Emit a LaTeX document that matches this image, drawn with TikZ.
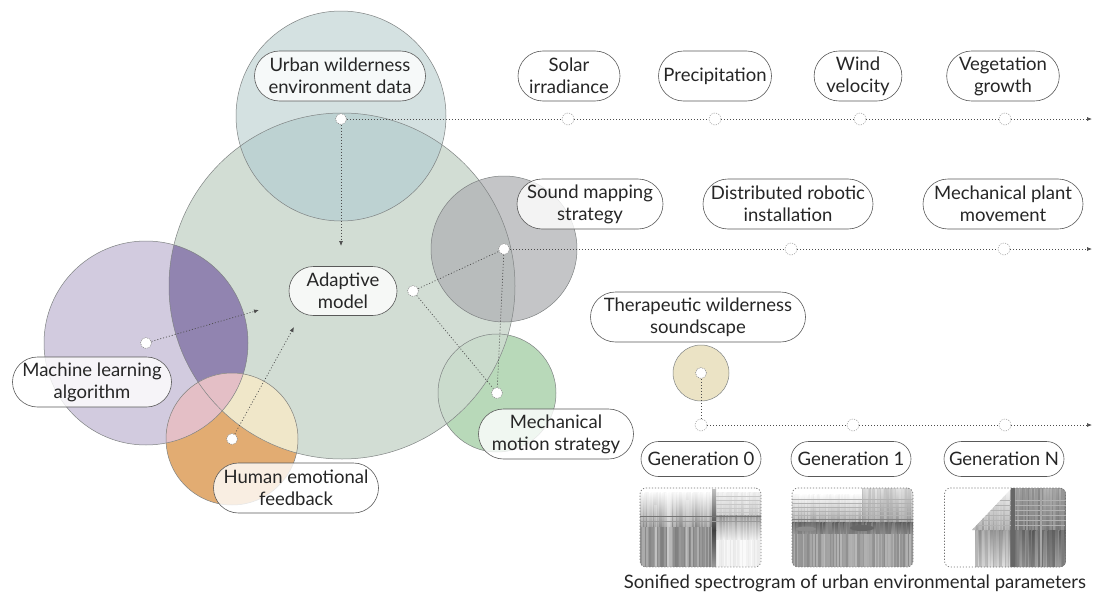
\documentclass[tikz,border=0pt]{standalone}
\usepackage{fontspec}
\setmainfont{Lato}
\usetikzlibrary{shapes.misc,arrows.meta}
\definecolor{cgreen}{HTML}{D2DDD4}
\definecolor{cblue}{HTML}{D4E1E1}
\definecolor{cbluegreen}{HTML}{BDD2D2}
\definecolor{cpurple}{HTML}{D2CBDF}
\definecolor{cdpurple}{HTML}{9184B0}
\definecolor{corange}{HTML}{E2AC72}
\definecolor{cpink}{HTML}{E4BFC6}
\definecolor{cyellow}{HTML}{F0E7C9}
\definecolor{cgray}{HTML}{C4C5C7}
\definecolor{cgraygreen}{HTML}{B8BCBC}
\definecolor{cmint}{HTML}{B8D9B9}
\definecolor{cmintgreen}{HTML}{CADBCC}
\definecolor{ctan}{HTML}{EBE3C5}
\definecolor{cedge}{HTML}{7F8383}
\newcommand\vstr[6]{%
  \pgfmathsetmacro\vsnext{#1+1.5}%
  \foreach \xx in {#1,\vsnext,...,#2}{%
    \pgfmathrandominteger{\vg}{#5}{#6}%
    \fill[black!\vg] (\xx,#3) rectangle (\xx+1.9,#4);
  }}
\newcommand\vshd[8]{%
  \pgfmathsetmacro\vsnext{#1+1.5}%
  \foreach \xx in {#1,\vsnext,...,#2}{%
    \pgfmathrandominteger{\vga}{#5}{#6}%
    \pgfmathrandominteger{\vgb}{#7}{#8}%
    \shade[top color=black!\vga, bottom color=black!\vgb] (\xx,#3) rectangle (\xx+1.9,#4);
  }}
\begin{document}
\begin{tikzpicture}[x=1pt,y=-1pt,
  pill/.style={rounded rectangle, draw=black!65, line width=0.6pt, fill=white,
    fill opacity=0.8, text opacity=1, text=black!85, align=center,
    inner xsep=3pt, inner ysep=2pt, minimum height=50pt,
    font=\fontsize{18.5}{22}\selectfont},
  conn/.style={draw=black!70, line width=0.7pt, dash pattern=on 1pt off 2pt},
  arr/.style={conn, -{Latex[length=5pt,width=4pt]}},
  dot/.style={circle, fill=white, draw=black!45, line width=0.6pt,
    dash pattern=on 1pt off 1pt, minimum size=11pt, inner sep=0pt},
  wp/.style={circle, fill=white, draw=black!40, line width=0.5pt,
    dash pattern=on 1.2pt off 1.2pt, minimum size=12pt, inner sep=0pt},
  specbox/.style={rectangle, rounded corners=6pt, draw=black!55, line width=0.7pt,
    dash pattern=on 1.2pt off 1.8pt, minimum width=121pt, minimum height=79pt, inner sep=0pt},
  ring/.style={draw=cedge, line width=0.5pt}
]
\useasboundingbox (0,0) rectangle (1093,597);
\fill[white] (0,0) rectangle (1093,597);

% ---- circles ----
\coordinate (cG) at (342,286);
\coordinate (cB) at (341,116);
\coordinate (cP) at (146,343);
\coordinate (cO) at (232,439);
\coordinate (cS) at (504,249);
\coordinate (cM) at (497,393);
\coordinate (cT) at (701,373);

\fill[cmint] (cM) circle (59pt);
\fill[cgreen] (cG) circle (173pt);
\begin{scope}
  \clip (cG) circle (173pt);
  \fill[cmintgreen] (cM) circle (59pt);
\end{scope}
\fill[cgray] (cS) circle (73pt);
\begin{scope}
  \clip (cG) circle (173pt);
  \fill[cgraygreen] (cS) circle (73pt);
\end{scope}
\fill[cblue] (cB) circle (105pt);
\begin{scope}
  \clip (cG) circle (173pt);
  \fill[cbluegreen] (cB) circle (105pt);
\end{scope}
\fill[cpurple] (cP) circle (102pt);
\begin{scope}
  \clip (cG) circle (173pt);
  \fill[cdpurple] (cP) circle (102pt);
\end{scope}
\fill[corange] (cO) circle (66pt);
\begin{scope}
  \clip (cO) circle (66pt);
  \fill[cyellow] (cG) circle (173pt);
  \fill[cpink] (cP) circle (102pt);
\end{scope}
\fill[ctan] (cT) circle (28pt);

\draw[ring] (cG) circle (173pt);
\draw[ring] (cB) circle (105pt);
\draw[ring] (cP) circle (102pt);
\draw[ring] (cO) circle (66pt);
\draw[ring] (cS) circle (73pt);
\draw[ring] (cM) circle (59pt);
\draw[ring] (cT) circle (28pt);

% ---- connectors & dots ----
\node[dot] (dU) at (341,119) {};
\node[dot] (dA) at (413,291) {};
\node[dot] (dS) at (504,249) {};
\node[dot] (dM) at (497,393) {};
\node[dot] (dP) at (146,343) {};
\node[dot] (dO) at (232,439) {};
\node[dot] (dT) at (701,373) {};

\coordinate (aU) at (341,246);
\coordinate (aP) at (259,310);
\coordinate (aO) at (294,327);

\node[wp] (w1) at (568,119) {};
\node[wp] (w2) at (715,119) {};
\node[wp] (w3) at (860,119) {};
\node[wp] (w4) at (1005,119) {};
\coordinate (e1) at (1092,119);

\node[wp] (v1) at (791,249) {};
\node[wp] (v2) at (1004,249) {};
\coordinate (e2) at (1092,249);

\node[wp] (t0) at (701,425) {};
\node[wp] (t1) at (853,425) {};
\node[wp] (t2) at (1005,425) {};
\coordinate (e3) at (1092,425);

\draw[arr] (dU) -- (aU);
\draw[conn] (dU) -- (w1); \draw[conn] (w1) -- (w2); \draw[conn] (w2) -- (w3);
\draw[conn] (w3) -- (w4); \draw[arr] (w4) -- (e1);
\draw[arr] (dP) -- (aP);
\draw[arr] (dO) -- (aO);
\draw[conn] (dA) -- (dS);
\draw[conn] (dA) -- (dM);
\draw[conn] (dS) -- (dM);
\draw[conn] (dS) -- (v1); \draw[conn] (v1) -- (v2); \draw[arr] (v2) -- (e2);
\draw[conn] (dT) -- (t0); \draw[conn] (t0) -- (t1); \draw[conn] (t1) -- (t2);
\draw[arr] (t2) -- (e3);

% ---- labels ----
\node[pill, minimum width=177pt] (urban) at (340,76) {Urban wilderness\\environment data};
\node[pill, minimum width=108pt] (solar) at (569,76) {Solar\\irradiance};
\node[pill, minimum width=119pt] (precip) at (715,76) {Precipitation};
\node[pill, minimum width=86pt] (wind) at (858,76) {Wind\\velocity};
\node[pill, minimum width=111pt] (veg) at (1003,76) {Vegetation\\growth};
\node[pill, minimum width=152pt] (sound) at (590,204) {Sound mapping\\strategy};
\node[pill, minimum width=176pt] (robot) at (788,204) {Distributed robotic\\installation};
\node[pill, minimum width=166pt] (plant) at (1003,204) {Mechanical plant\\movement};
\node[pill, minimum width=114pt, minimum height=49pt] (adapt) at (343,291) {Adaptive\\model};
\node[pill, minimum width=165pt] (mlearn) at (92,382) {Machine learning\\algorithm};
\node[pill, minimum width=171pt] (human) at (296,488) {Human emotional\\feedback};
\node[pill, minimum width=161pt] (mech) at (556,434) {Mechanical\\motion strategy};
\node[pill, minimum width=221pt] (thera) at (698,317) {Therapeutic wilderness\\soundscape};
\node[pill, minimum width=126pt, minimum height=35pt] (g0) at (701,459) {Generation 0};
\node[pill, minimum width=126pt, minimum height=35pt] (g1) at (851,459) {Generation 1};
\node[pill, minimum width=126pt, minimum height=35pt] (gN) at (1004,459) {Generation N};

% ---- spectrograms ----
\pgfmathsetseed{7}
% Generation 0
\begin{scope}
  \clip[rounded corners=6pt] (640,488) rectangle (761,567);
  \vshd{640}{712}{492}{527}{0}{4}{30}{48}
  \vstr{640}{712}{527}{567}{32}{50}
  \fill[white, opacity=0.4] (667,492) rectangle (672,567);
  \fill[white, opacity=0.3] (686,500) rectangle (689,567);
  \fill[white, opacity=0.25] (654,505) rectangle (657,567);
  \vshd{716}{760}{492}{515}{2}{8}{15}{25}
  \vshd{716}{760}{515}{540}{30}{45}{4}{10}
  \vstr{716}{760}{540}{567}{2}{9}
  \shade[top color=black!25, bottom color=black!75] (712,489) rectangle (716,530);
  \shade[top color=black!75, bottom color=black!40] (712,530) rectangle (716,567);
  \foreach \yy in {496,500,504,508,512}{\draw[black!22, line width=0.5pt] (716,\yy) -- (761,\yy);}
  \draw[black!55, line width=1pt] (640,516) -- (761,516);
  \draw[black!40, line width=0.8pt] (640,521) -- (761,521);
\end{scope}
\node[specbox] (s0) at (700.5,527.5) {};
% Generation 1
\begin{scope}
  \clip[rounded corners=6pt] (792,488) rectangle (913,567);
  \vshd{792}{862}{494}{522}{0}{4}{25}{40}
  \vshd{862}{912}{488}{522}{10}{22}{30}{45}
  \vshd{792}{912}{522}{534}{50}{65}{40}{52}
  \vstr{792}{912}{534}{567}{28}{46}
  \foreach \yy in {499,503,507,511,515}{\draw[black!30, line width=0.6pt] (792,\yy) -- (913,\yy);}
  \draw[black!50, line width=0.9pt] (792,519) -- (913,519);
  \fill[black!60] (862,528) ellipse (12pt and 3pt);
  \fill[black!45] (806,529) ellipse (10pt and 2.5pt);
\end{scope}
\node[specbox] (s1) at (852.5,527.5) {};
% Generation N
\begin{scope}
  \clip[rounded corners=6pt] (944,488) rectangle (1066,567);
  \begin{scope}
    \clip (1012,488) -- (1066,488) -- (1066,530) -- (972,530) -- cycle;
    \vshd{972}{1010}{488}{530}{4}{10}{25}{40}
    \vshd{1010}{1065}{488}{530}{30}{45}{40}{60}
    \foreach \yy in {500,505,510,515,520,525}{\draw[black!30, line width=0.6pt] (972,\yy) -- (1066,\yy);}
  \end{scope}
  \vshd{975}{1010}{530}{567}{30}{45}{12}{30}
  \vshd{1010}{1065}{530}{567}{48}{66}{35}{55}
  \fill[black!60] (1011,488) rectangle (1015,567);
  \fill[black!35] (1040,488) rectangle (1042,567);
\end{scope}
\node[specbox] (sN) at (1005,527.5) {};

\node[text=black!85, font=\fontsize{18.5}{22}\selectfont] (cap) at (855,583)
  {Sonified spectrogram of urban environmental parameters};
\end{tikzpicture}
\end{document}
